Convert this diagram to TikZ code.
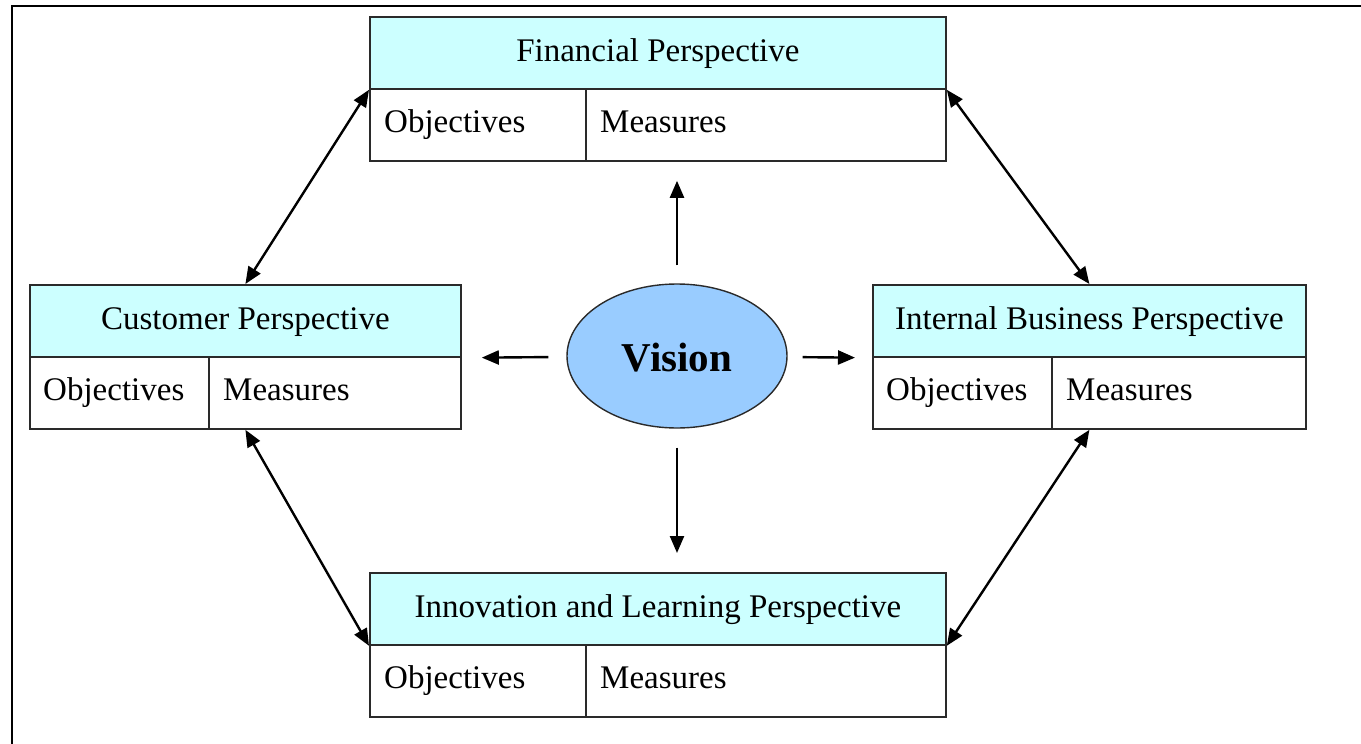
\documentclass[tikz,border=0pt]{standalone}
\usepackage{fontspec}
\setmainfont{Liberation Serif}
\usetikzlibrary{arrows.meta,calc,shapes.geometric}
\definecolor{hdrfill}{HTML}{CCFFFF}
\definecolor{visfill}{HTML}{99CCFF}
\definecolor{lincol}{HTML}{2A2A2A}
\begin{document}
\begin{tikzpicture}[x=1pt,y=-1pt,
  boxline/.style={draw=lincol, line width=1.8pt},
  hdr/.style={boxline, fill=hdrfill, rectangle, inner sep=0pt, minimum height=72pt, anchor=north west},
  bodybox/.style={boxline, fill=white, rectangle, inner sep=0pt, minimum height=72pt, anchor=north west},
  lbl/.style={inner sep=0pt, font=\fontsize{33}{40}\selectfont, text=black},
  tip/.style={Triangle[length=17pt,width=14pt]},
  sgl/.style={line width=2.4pt, -{Triangle[length=17pt,width=14pt]}},
  dbl/.style={line width=2.4pt, {Triangle[length=17pt,width=14pt]}-{Triangle[length=17pt,width=14pt]}}
]
\useasboundingbox (0,0) rectangle (1361,744);
% frame (top and left only)
\coordinate (frBL) at (12,744);
\coordinate (frTL) at (12,6);
\coordinate (frTR) at (1361,6);
\draw[line width=2.8pt, black] (frBL) -- (frTL) -- (frTR);

% Financial
\node[hdr, minimum width=576pt] (finH) at (369,16) {};
\node[bodybox, minimum width=576pt] (finB) at (369,88) {};
\draw[boxline] ($(finB.north west)+(217,0)$) coordinate (finD1) -- ($(finB.south west)+(217,0)$) coordinate (finD2);
\node[lbl, anchor=base] (finT) at ($(finH.north)+(0,45)$) {Financial Perspective};
\node[lbl, anchor=base west] (finO) at ($(finB.north west)+(15,44)$) {Objectives};
\node[lbl, anchor=base west] (finM) at ($(finD1)+(14,44)$) {Measures};

% Customer
\node[hdr, minimum width=431pt] (cusH) at (29,284) {};
\node[bodybox, minimum width=431pt] (cusB) at (29,356) {};
\draw[boxline] ($(cusB.north west)+(180,0)$) coordinate (cusD1) -- ($(cusB.south west)+(180,0)$) coordinate (cusD2);
\node[lbl, anchor=base] (cusT) at ($(cusH.north)+(0,45)$) {Customer Perspective};
\node[lbl, anchor=base west] (cusO) at ($(cusB.north west)+(14,44)$) {Objectives};
\node[lbl, anchor=base west] (cusM) at ($(cusD1)+(14,44)$) {Measures};

% Internal Business
\node[hdr, minimum width=433pt] (intH) at (872,284) {};
\node[bodybox, minimum width=433pt] (intB) at (872,356) {};
\draw[boxline] ($(intB.north west)+(180,0)$) coordinate (intD1) -- ($(intB.south west)+(180,0)$) coordinate (intD2);
\node[lbl, anchor=base] (intT) at ($(intH.north)+(0,45)$) {Internal Business Perspective};
\node[lbl, anchor=base west] (intO) at ($(intB.north west)+(14,44)$) {Objectives};
\node[lbl, anchor=base west] (intM) at ($(intD1)+(14,44)$) {Measures};

% Innovation and Learning
\node[hdr, minimum width=576pt] (innH) at (369,572) {};
\node[bodybox, minimum width=576pt] (innB) at (369,644) {};
\draw[boxline] ($(innB.north west)+(217,0)$) coordinate (innD1) -- ($(innB.south west)+(217,0)$) coordinate (innD2);
\node[lbl, anchor=base] (innT) at ($(innH.north)+(0,45)$) {Innovation and Learning Perspective};
\node[lbl, anchor=base west] (innO) at ($(innB.north west)+(15,44)$) {Objectives};
\node[lbl, anchor=base west] (innM) at ($(innD1)+(14,44)$) {Measures};

% Vision
\node[ellipse, draw=lincol, line width=1.4pt, fill=visfill, minimum width=220pt, minimum height=144pt, inner sep=0pt] (vis) at (677,356) {};
\node[inner sep=0pt, font=\bfseries\fontsize{41}{48}\selectfont] (visT) at ($(vis)+(0,2)$) {Vision};

% Arrows from vision
\draw[sgl, shorten <=18pt, shorten >=19pt] (vis.north) -- (vis.north |- finB.south);
\draw[sgl, shorten <=18pt, shorten >=20pt] (vis) -- (cusH.south east);
\draw[sgl, shorten <=15pt, shorten >=17pt] (vis) -- (intH.south west);
\draw[sgl, shorten <=19pt, shorten >=19pt] (vis.south) -- (vis.south |- innH.north);

% Double arrows between perspectives
\draw[dbl] (finH.south west) -- (cusH.north);
\draw[dbl] (cusB.south) -- (innH.south west);
\draw[dbl] (finH.south east) -- (intH.north);
\draw[dbl] (intB.south) -- (innH.south east);
\end{tikzpicture}
\end{document}
